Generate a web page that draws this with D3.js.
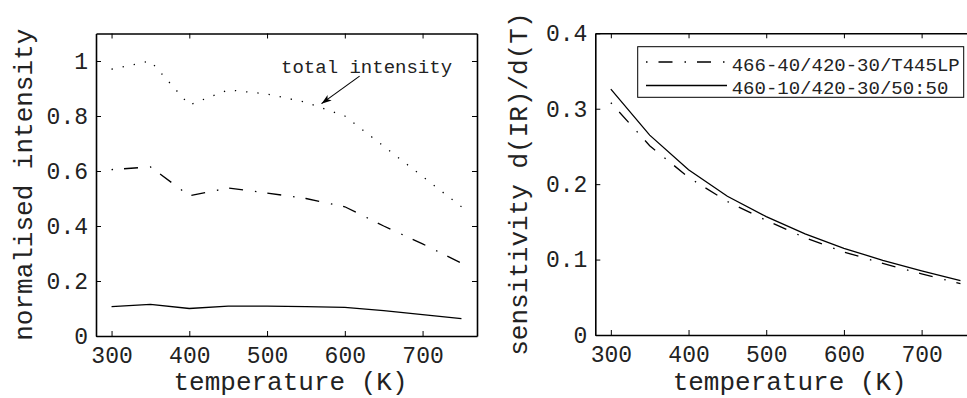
<html>
<head>
<meta charset="UTF-8">
<script src="https://d3js.org/d3.v7.min.js"></script>
<style>
body { margin: 0; background: #fff; }
text { font-family: "Liberation Mono", "Courier New", monospace; fill: #222; }
</style>
</head>
<body>
<svg id="fig" width="967" height="398"></svg>
<script>
// data
var temps = [300, 350, 400, 450, 500, 550, 600, 650, 700, 750];
var totalIntensity = [0.97, 1.0, 0.84, 0.895, 0.88, 0.85, 0.80, 0.69, 0.58, 0.47];
var intensityT445LP = [0.605, 0.615, 0.51, 0.538, 0.52, 0.50, 0.47, 0.40, 0.335, 0.265];
var intensity5050 = [0.107, 0.115, 0.10, 0.109, 0.109, 0.107, 0.104, 0.092, 0.078, 0.063];
var sensT445LP = [0.308, 0.251, 0.209, 0.177, 0.152, 0.129, 0.110, 0.095, 0.081, 0.068];
var sens5050 = [0.326, 0.265, 0.219, 0.184, 0.157, 0.134, 0.115, 0.099, 0.085, 0.072];
var xTicks = [300, 400, 500, 600, 700];
var leftYTicks = [0, 0.2, 0.4, 0.6, 0.8, 1];
var rightYTicks = [0, 0.1, 0.2, 0.3, 0.4];
var legendLabels = ["466-40/420-30/T445LP", "460-10/420-30/50:50"];
var annotation = {text: "total intensity", tx: 518, ty: 0.955, x0: 619, y0: 0.945, x1: 570, y1: 0.845};

var DOTTED = "1.3,10", DASHDOT = "1.5,11,14,12";

var svg = d3.select("#fig");

svg.append("defs").append("marker")
  .attr("id", "arrow")
  .attr("viewBox", "0 0 10 10")
  .attr("refX", 10).attr("refY", 5)
  .attr("markerWidth", 10).attr("markerHeight", 10)
  .attr("markerUnits", "userSpaceOnUse")
  .attr("orient", "auto")
  .append("path")
  .attr("d", "M0,1.5 L10,5 L0,8.5 L2.5,5 Z")
  .attr("fill", "#000");

function panel(box, yMax, yTicks, ylabel, ylabelX) {
  var x = d3.scaleLinear().domain([280, 770]).range([box.left, box.right]);
  var y = d3.scaleLinear().domain([0, yMax]).range([box.bottom, box.top]);
  var g = svg.append("g");

  // box with inward ticks on all sides
  var xb = g.append("g").attr("transform", "translate(0," + box.bottom + ")")
    .call(d3.axisBottom(x).tickValues(xTicks).tickSize(-5).tickSizeOuter(0).tickFormat(d3.format("d")));
  g.append("g").attr("transform", "translate(0," + box.top + ")")
    .call(d3.axisTop(x).tickValues(xTicks).tickSize(-5).tickSizeOuter(0).tickFormat(""));
  g.append("g").attr("transform", "translate(" + box.left + ",0)")
    .call(d3.axisLeft(y).tickValues(yTicks).tickSize(-5).tickSizeOuter(0).tickPadding(8).tickFormat(d3.format("~g")));
  g.append("g").attr("transform", "translate(" + box.right + ",0)")
    .call(d3.axisRight(y).tickValues(yTicks).tickSize(-5).tickSizeOuter(0).tickFormat(""));

  g.selectAll(".domain").attr("stroke", "#000").attr("stroke-width", 1.6);
  g.selectAll(".tick line").attr("stroke", "#000").attr("stroke-width", 1);
  g.selectAll(".tick text").style("font-size", "23px").attr("fill", "#222")
    .style("font-family", "'Liberation Mono', monospace");
  xb.selectAll(".tick text").attr("dy", null).attr("y", 27);

  g.append("text")
    .attr("x", (box.left + box.right) / 2 + 4).attr("y", 390)
    .attr("text-anchor", "middle").style("font-size", "26px")
    .text("temperature (K)");
  g.append("text")
    .attr("transform", "translate(" + ylabelX + "," + ((box.top + box.bottom) / 2) + ") rotate(-90)")
    .attr("text-anchor", "middle").style("font-size", "26px")
    .text(ylabel);

  return {x: x, y: y, g: g};
}

function drawLine(p, values, dash) {
  var line = d3.line().x(function (d, i) { return p.x(temps[i]); }).y(function (d) { return p.y(d); });
  p.g.append("path").datum(values)
    .attr("d", line).attr("fill", "none").attr("stroke", "#000")
    .attr("stroke-width", 1.3).attr("stroke-dasharray", dash);
}

// left panel
var L = panel({left: 96, right: 477, top: 33.5, bottom: 336}, 1.1, leftYTicks, "normalised intensity", 32);
drawLine(L, totalIntensity, DOTTED);
drawLine(L, intensityT445LP, DASHDOT);
drawLine(L, intensity5050, null);

L.g.append("text")
  .attr("x", L.x(annotation.tx)).attr("y", L.y(annotation.ty))
  .style("font-size", "19px").text(annotation.text);
L.g.append("line")
  .attr("x1", L.x(annotation.x0)).attr("y1", L.y(annotation.y0))
  .attr("x2", L.x(annotation.x1)).attr("y2", L.y(annotation.y1))
  .attr("stroke", "#000").attr("stroke-width", 1.1)
  .attr("marker-end", "url(#arrow)");

// right panel
var R = panel({left: 595.3, right: 976, top: 33.3, bottom: 335}, 0.4, rightYTicks, "sensitivity d(IR)/d(T)", 527);
drawLine(R, sensT445LP, DASHDOT);
drawLine(R, sens5050, null);

// legend
var leg = R.g.append("g");
leg.append("rect")
  .attr("x", 637.7).attr("y", 46.7).attr("width", 326).attr("height", 50.6)
  .attr("fill", "#fff").attr("stroke", "#000").attr("stroke-width", 1);
var legDash = [DASHDOT, null];
legendLabels.forEach(function (lab, i) {
  var yy = 62 + i * 23.5;
  leg.append("line")
    .attr("x1", 646).attr("x2", 727).attr("y1", yy).attr("y2", yy)
    .attr("stroke", "#000").attr("stroke-width", 1.3).attr("stroke-dasharray", legDash[i]);
  leg.append("text")
    .attr("x", 731.7).attr("y", yy + 8.5)
    .style("font-size", "19px").text(lab);
});
</script>
</body>
</html>
